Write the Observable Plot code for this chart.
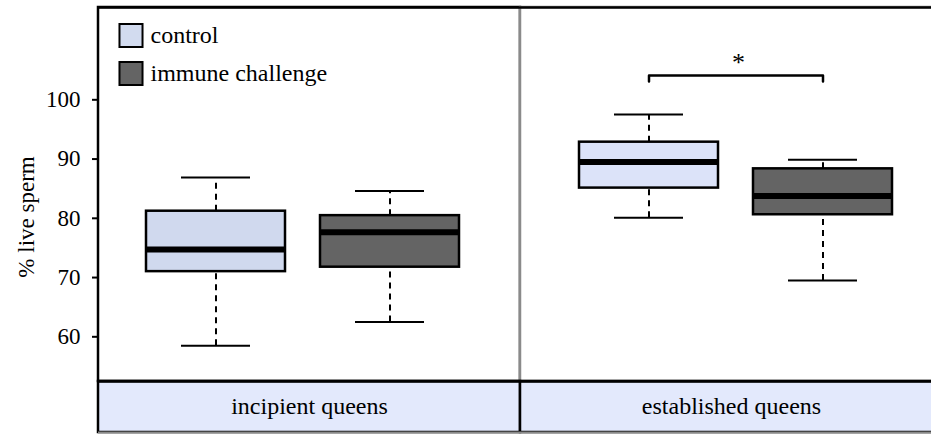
<!DOCTYPE html>
<html><head><meta charset="utf-8">
<script src="https://cdn.jsdelivr.net/npm/d3@7"></script>
<script src="https://cdn.jsdelivr.net/npm/@observablehq/plot@0.6"></script>
<style>
html,body{margin:0;padding:0;background:#fff;overflow:hidden;}
#chart{width:931px;height:434px;overflow:hidden;}
</style></head><body><div id="chart"></div>
<script>
// ---- data ----
const groups = ["incipient queens", "established queens"];
const conditions = ["control", "immune challenge"];
// five-number summaries, order: incipient control, incipient immune, established control, established immune
const whiskerLow  = [58.5, 62.5, 80.1, 69.5];
const q1          = [71.0, 71.75, 85.1, 80.6];
const median      = [74.75, 77.65, 89.5, 83.75];
const q3          = [81.2, 80.45, 92.85, 88.35];
const whiskerHigh = [86.9, 84.6, 97.5, 89.9];
const yTicks = [60, 70, 80, 90, 100];
const yLabel = "% live sperm";
const sigGroup = ["established queens"];
const sigLevel = [104.1];
const sigLeg = [103.1];
const sigLabel = ["*"];

// ---- styling / layout ----
const fills = {
  "incipient queens|control": "#d0d9ee",
  "established queens|control": "#dce3f9",
  "incipient queens|immune challenge": "#646464",
  "established queens|immune challenge": "#646464"
};
const legendFill = {"control": "#d2dbef", "immune challenge": "#646464"};
// boxes sit slightly toward the panel divider
const groupShift = {"incipient queens": -6, "established queens": 5};
const yMax = 115.58, bandTop = 52.46, yMin = 43.85;
const FONT = "'Liberation Serif', 'Times New Roman', serif";

const rows = [];
groups.forEach((g, gi) => conditions.forEach((c, ci) => {
  const k = gi * conditions.length + ci;
  rows.push({group: g, cond: c, lo: whiskerLow[k], q1: q1[k], med: median[k], q3: q3[k], hi: whiskerHigh[k], fill: fills[g + "|" + c]});
}));

const bracket = [];
sigGroup.forEach((g, i) => {
  bracket.push({group: g, x: conditions[0], y: sigLeg[i], id: i});
  bracket.push({group: g, x: conditions[0], y: sigLevel[i], id: i});
  bracket.push({group: g, x: conditions[1], y: sigLevel[i], id: i});
  bracket.push({group: g, x: conditions[1], y: sigLeg[i], id: i});
});
const sigText = sigGroup.map((g, i) => ({group: g, y: sigLevel[i], label: sigLabel[i]}));

function boxMarks(data, dx) {
  return [
    Plot.ruleX(data, {fx: "group", x: "cond", y1: "q3", y2: "hi", dx, stroke: "black", strokeWidth: 2, strokeDasharray: "6,5"}),
    Plot.ruleX(data, {fx: "group", x: "cond", y1: "lo", y2: "q1", dx, stroke: "black", strokeWidth: 2, strokeDasharray: "6,5"}),
    Plot.tickY(data, {fx: "group", x: "cond", y: "hi", dx, stroke: "black", strokeWidth: 2, insetLeft: 35, insetRight: 35}),
    Plot.tickY(data, {fx: "group", x: "cond", y: "lo", dx, stroke: "black", strokeWidth: 2, insetLeft: 35, insetRight: 35}),
    Plot.barY(data, {fx: "group", x: "cond", y1: "q1", y2: "q3", dx, fill: "fill", stroke: "black", strokeWidth: 2.5}),
    Plot.tickY(data, {fx: "group", x: "cond", y: "med", dx, stroke: "black", strokeWidth: 6})
  ];
}
const boxes = groups.flatMap(g => boxMarks(rows.filter(r => r.group === g), groupShift[g]));

const sigMarks = sigGroup.flatMap((g, i) => [
  Plot.line(bracket.filter(b => b.id === i), {fx: "group", x: "x", y: "y", dx: groupShift[g], stroke: "black", strokeWidth: 2.5}),
  Plot.text(sigText.filter((s, j) => j === i), {fx: "group", y: "y", text: "label", dx: groupShift[g] + 2, dy: -5, lineAnchor: "bottom", fontSize: 26, fill: "black"})
]);

const legendMarks = [];
conditions.forEach((c, i) => {
  const d = [{group: groups[0], cond: c}];
  legendMarks.push(Plot.dot(d, {fx: "group", frameAnchor: "top-left", dx: 32.5, dy: 28 + 38 * i,
    symbol: "square", r: 13, fill: legendFill[c], stroke: "black", strokeWidth: 2}));
  legendMarks.push(Plot.text(d, {fx: "group", frameAnchor: "top-left", dx: 52, dy: 28 + 38 * i,
    text: "cond", textAnchor: "start", lineAnchor: "middle", fontSize: 24, fill: "black"}));
});

const chart = Plot.plot({
  width: 942, height: 434,
  marginLeft: 98, marginRight: 0, marginTop: 7, marginBottom: 2,
  style: {fontFamily: FONT, fontSize: "23px", maxWidth: "none", background: "white", overflow: "visible"},
  fx: {domain: groups, padding: 0, axis: null},
  x: {domain: conditions, paddingInner: 0.2, paddingOuter: 0.3125, axis: null},
  y: {domain: [yMin, yMax], axis: null},
  color: {type: "identity"},
  marks: [
    // panel frames
    Plot.barY([{group: groups[0]}], {fx: "group", y1: bandTop, y2: yMax, fill: "white", stroke: "black", strokeWidth: 2.5}),
    Plot.barY([{group: groups[1]}], {fx: "group", y1: bandTop, y2: yMax, fill: "white", stroke: "#8a8a8a", strokeWidth: 2.5}),
    // strip
    Plot.barY(groups.map(g => ({group: g})), {fx: "group", y1: yMin, y2: bandTop, fill: "#e3e9fc", stroke: "black", strokeWidth: 2.5}),
    Plot.ruleY([yMin], {stroke: "#8a8a8a", strokeWidth: 2}),
    Plot.ruleY([yMax], {stroke: "black", strokeWidth: 2.5}),
    Plot.ruleY([bandTop], {stroke: "black", strokeWidth: 2.5}),
    Plot.text(groups.map(g => ({group: g})), {fx: "group", text: "group", frameAnchor: "bottom", dy: -26, lineAnchor: "middle", fontSize: 24, fill: "black"}),
    // y axis
    Plot.axisY(yTicks, {tickSize: 6, tickPadding: 12, fontSize: 23, strokeWidth: 2, label: null}),
    Plot.text([{group: groups[0]}], {fx: "group", text: () => yLabel, frameAnchor: "left", dx: -72, dy: -3, rotate: -90, fontSize: 23, textAnchor: "middle", lineAnchor: "middle", fill: "black"}),
    ...boxes,
    ...sigMarks,
    ...legendMarks
  ]
});
document.getElementById("chart").appendChild(chart);
</script>
</body></html>
